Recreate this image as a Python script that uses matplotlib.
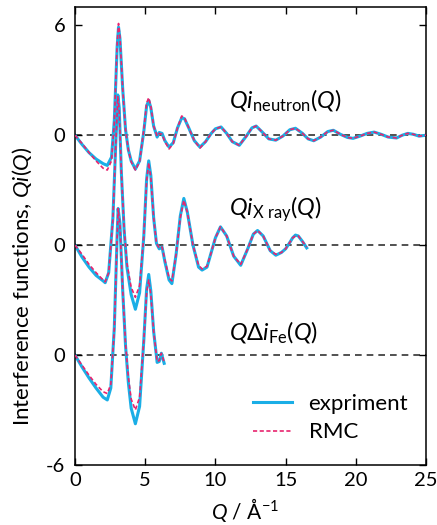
import matplotlib
matplotlib.use('Agg')
import matplotlib.pyplot as plt

plt.rcParams['font.family'] = ['Lato', 'DejaVu Sans']
plt.rcParams['mathtext.fontset'] = 'custom'
plt.rcParams['mathtext.rm'] = 'Lato'
plt.rcParams['mathtext.it'] = 'Lato:italic'

# neutron
q_n = [0, 0.5, 1.0, 1.5, 2.0, 2.3, 2.6, 2.8, 3.0, 3.1, 3.2, 3.4, 3.6, 3.8, 4.0, 4.3, 4.6, 4.9,
       5.1, 5.25, 5.4, 5.6, 5.85, 6.0, 6.2, 6.4, 6.7, 7.0, 7.3, 7.6, 7.8, 8.1, 8.5, 8.9, 9.3,
       9.7, 10.0, 10.4, 10.8, 11.2, 11.7, 12.2, 12.6, 12.9, 13.3, 13.8, 14.3, 14.8, 15.3, 15.7,
       16.2, 16.6, 17.0, 17.5, 18.0, 18.4, 18.9, 19.4, 19.8, 20.3, 20.8, 21.3, 21.8, 22.3, 22.9,
       23.3, 23.7, 24.1, 24.5, 25.0]
exp_n = [0, -0.5, -0.95, -1.3, -1.55, -1.65, -1.2, 0.8, 4.8, 5.9, 5.3, 2.5, 0.3, -0.8, -1.4,
         -1.85, -1.4, 0.2, 1.6, 1.9, 1.5, 0.5, -0.1, 0.15, 0.1, -0.3, -0.65, -0.4, 0.4, 0.95,
         0.9, 0.4, -0.3, -0.65, -0.35, 0.1, 0.35, 0.45, 0.1, -0.35, -0.55, -0.05, 0.4, 0.5, 0.2,
         -0.2, -0.27, -0.05, 0.3, 0.38, 0.1, -0.2, -0.3, -0.1, 0.2, 0.27, 0.05, -0.12, -0.17,
         -0.05, 0.1, 0.17, 0.05, -0.1, -0.15, 0.0, 0.1, 0.05, -0.05, 0.0]
rmc_n = [0, -0.45, -0.95, -1.4, -1.8, -1.9, -1.4, 0.7, 5.0, 6.1, 5.4, 2.5, 0.3, -0.8, -1.45,
         -1.9, -1.45, 0.3, 1.75, 2.05, 1.6, 0.5, -0.05, 0.1, 0.05, -0.35, -0.75, -0.45, 0.4,
         1.05, 0.95, 0.4, -0.3, -0.7, -0.35, 0.1, 0.35, 0.45, 0.1, -0.35, -0.55, -0.05, 0.4,
         0.5, 0.2, -0.2, -0.27, -0.05, 0.3, 0.38, 0.1, -0.2, -0.3, -0.1, 0.2, 0.27, 0.05,
         -0.12, -0.17, -0.05, 0.1, 0.17, 0.05, -0.1, -0.15, 0.0, 0.1, 0.05, -0.05, 0.0]

# x-ray
q_x = [0, 0.5, 1.0, 1.5, 2.0, 2.15, 2.4, 2.7, 2.9, 3.05, 3.15, 3.3, 3.5, 3.7, 4.0, 4.3, 4.6,
       4.9, 5.1, 5.25, 5.4, 5.6, 5.8, 6.0, 6.2, 6.4, 6.7, 6.9, 7.2, 7.5, 7.75, 8.0, 8.4, 8.8,
       9.05, 9.4, 9.7, 10.0, 10.36, 10.8, 11.3, 11.8, 12.3, 12.7, 13.0, 13.4, 13.9, 14.3, 14.7,
       15.0, 15.3, 15.5, 15.7, 15.9, 16.2, 16.5]
exp_x = [0, -0.65, -1.2, -1.65, -1.95, -2.05, -1.5, 1.5, 5.5, 8.2, 7.5, 4.0, 0.8, -1.2, -2.7,
         -3.5, -2.6, 0.5, 3.6, 4.6, 3.8, 1.5, 0.1, -0.2, -0.1, -0.9, -1.9, -2.1, -0.5, 1.6,
         2.55, 1.8, 0.0, -1.2, -1.36, -1.2, -0.4, 0.4, 1.0, 0.5, -0.6, -1.1, -0.2, 0.6, 0.8,
         0.5, -0.3, -0.55, -0.4, -0.2, 0.15, 0.4, 0.55, 0.5, 0.2, -0.15]
rmc_x = [0, -0.5, -1.05, -1.5, -1.9, -2.0, -1.5, 1.4, 5.4, 8.1, 7.4, 4.0, 0.9, -1.0, -2.3,
         -2.85, -2.2, 0.5, 3.5, 4.5, 3.7, 1.5, 0.1, -0.15, -0.1, -0.8, -1.8, -1.95, -0.5, 1.5,
         2.45, 1.8, 0.0, -1.1, -1.3, -1.15, -0.4, 0.4, 1.0, 0.5, -0.6, -1.05, -0.2, 0.6, 0.8,
         0.5, -0.3, -0.5, -0.4, -0.2, 0.15, 0.4, 0.5, 0.5, 0.2, -0.1]

# Fe differential
q_fe = [0, 0.5, 1.0, 1.5, 2.0, 2.3, 2.55, 2.8, 3.0, 3.07, 3.2, 3.4, 3.6, 3.8, 4.0, 4.3, 4.6,
        4.9, 5.1, 5.25, 5.4, 5.6, 5.85, 6.0, 6.15, 6.35]
exp_fe = [0, -0.65, -1.25, -1.8, -2.3, -2.45, -1.8, 1.5, 6.5, 8.0, 7.2, 3.5, 0.5, -1.5, -2.9,
          -3.75, -2.8, 0.8, 3.6, 4.4, 3.5, 1.3, -0.4, -0.35, 0.1, -0.45]
rmc_fe = [0, -0.55, -1.1, -1.6, -2.0, -2.1, -1.6, 1.4, 6.4, 8.0, 7.1, 3.5, 0.6, -1.2, -2.4,
          -3.0, -2.3, 0.8, 3.4, 4.1, 3.3, 1.3, -0.35, -0.3, 0.1, -0.4]

offsets = [0, -6, -12]
labels = [r'$Qi_{\mathrm{neutron}}\mathrm{(}Q\mathrm{)}$',
          r'$Qi_{\mathrm{X\ ray}}\mathrm{(}Q\mathrm{)}$',
          r'$Q\Delta i_{\mathrm{Fe}}\mathrm{(}Q\mathrm{)}$']
label_y = [1.47, -4.36, -11.18]
ytick_pos = [6, 0, -6, -12, -18]
ytick_lab = ['6', '0', '0', '0', '-6']

cyan = '#1aaee6'
pink = '#e8246e'

fig = plt.figure(figsize=(4.37, 5.25), dpi=100)
ax = fig.add_axes([0.1716, 0.1143, 0.8034, 0.8724])

for off in offsets:
    ax.axhline(off, color='#333333', lw=1.2, ls=(0, (4, 3)), zorder=1)

sets = [(q_n, exp_n, rmc_n), (q_x, exp_x, rmc_x), (q_fe, exp_fe, rmc_fe)]
for i, (q, e, r) in enumerate(sets):
    off = offsets[i]
    ax.plot(q, [v + off for v in e], color=cyan, lw=2.2, zorder=2,
            label='expriment' if i == 0 else None)
    ax.plot(q, [v + off for v in r], color=pink, lw=1.2, ls=(0, (2.5, 1.5)), zorder=3,
            label='RMC' if i == 0 else None)

for lab, yy in zip(labels, label_y):
    ax.text(11.0, yy, lab, fontsize=17)

ax.set_xlim(0, 25)
ax.set_ylim(-18, 7)
ax.set_xticks([0, 5, 10, 15, 20, 25])
ax.set_yticks(ytick_pos)
ax.set_yticklabels(ytick_lab)
ax.tick_params(direction='in', top=True, right=True, labelsize=14.5, length=5, width=1)
ax.tick_params(axis='y', pad=7)
ax.tick_params(axis='x', pad=5)
for s in ax.spines.values():
    s.set_linewidth(1.1)

ax.set_ylabel(r'Interference functions, $Qi\mathrm{(}Q\mathrm{)}$', fontsize=16)
ax.yaxis.set_label_coords(-0.118, 0.39)
ax.set_xlabel(r'$Q$ / Å$^{-1}$', fontsize=15)
ax.xaxis.set_label_coords(0.484, -0.068)

ax.legend(loc='center left', frameon=False, fontsize=16, handlelength=1.75,
          bbox_to_anchor=(0.507, 0.1026), labelspacing=0.4, handletextpad=0.75,
          borderaxespad=0, borderpad=0)

fig.savefig('out.png', dpi=100)
